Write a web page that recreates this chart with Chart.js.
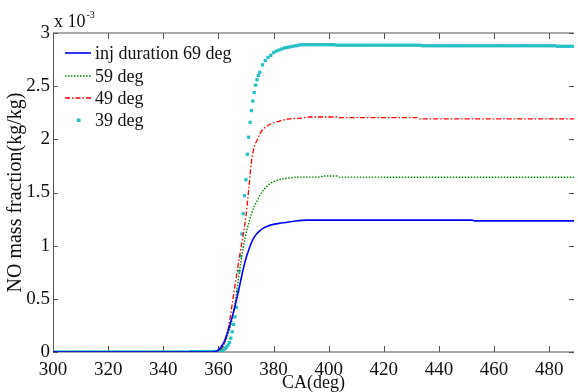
<!DOCTYPE html>
<html lang="en">
<head>
<meta charset="UTF-8">
<title>NO mass fraction</title>
<script src="https://cdn.jsdelivr.net/npm/chart.js"></script>
<style>
  html, body { margin: 0; padding: 0; background: #fff; }
  canvas { display: block; }
</style>
</head>
<body>
<canvas id="noChart" width="578" height="392"></canvas>
<script>
// values are NO mass fraction in units of 1e-3 kg/kg
const seriesLabels = ['inj duration 69 deg', '59 deg', '49 deg', '39 deg'];
const xTickLabels = ['300', '320', '340', '360', '380', '400', '420', '440', '460', '480'];
const yTickLabels = ['0', '0.5', '1', '1.5', '2', '2.5', '3'];

// 69 deg (solid blue)
const ca69 = [300, 358, 359, 360, 361, 362, 363, 364, 365, 366, 367, 368, 369, 370, 371, 372, 373, 374, 375, 376, 378, 380, 382, 385, 388, 392, 452, 453, 490];
const no69 = [0, 0, 0.005, 0.02, 0.05, 0.09, 0.16, 0.24, 0.33, 0.43, 0.54, 0.66, 0.78, 0.88, 0.96, 1.03, 1.08, 1.115, 1.14, 1.16, 1.185, 1.20, 1.21, 1.22, 1.232, 1.24, 1.24, 1.233, 1.233];

// 59 deg (dotted green)
const ca59 = [300, 358, 359, 360, 361, 362, 363, 364, 365, 366, 367, 368, 369, 370, 371, 372, 373, 374, 375, 376, 378, 380, 382, 385, 390, 397, 398, 403, 404, 490];
const no59 = [0, 0, 0.004, 0.012, 0.03, 0.07, 0.13, 0.21, 0.31, 0.45, 0.64, 0.82, 0.98, 1.11, 1.21, 1.30, 1.37, 1.42, 1.47, 1.51, 1.57, 1.60, 1.62, 1.635, 1.645, 1.645, 1.655, 1.655, 1.645, 1.643];

// 49 deg (dash-dot red)
const ca49 = [300, 358, 359, 360, 361, 362, 363, 364, 365, 366, 367, 368, 369, 370, 371, 372, 373, 374, 375, 376, 378, 380, 382, 385, 390, 393, 403, 404, 432, 433, 490];
const no49 = [0, 0, 0.004, 0.012, 0.03, 0.07, 0.15, 0.28, 0.45, 0.62, 0.79, 0.95, 1.10, 1.28, 1.53, 1.79, 1.93, 1.99, 2.05, 2.09, 2.13, 2.155, 2.17, 2.19, 2.20, 2.21, 2.21, 2.204, 2.204, 2.193, 2.193];

// 39 deg (cyan square markers)
const ca39 = [
  300, 301, 302, 303, 304, 305, 306, 307, 308, 309,
  310, 311, 312, 313, 314, 315, 316, 317, 318, 319,
  320, 321, 322, 323, 324, 325, 326, 327, 328, 329,
  330, 331, 332, 333, 334, 335, 336, 337, 338, 339,
  340, 341, 342, 343, 344, 345, 346, 347, 348, 349,
  350, 351, 352, 353, 354, 355, 356, 357, 358, 359,
  360, 360.5, 361, 361.5, 362, 362.5, 363, 363.5, 364, 364.5,
  365, 365.5, 366, 366.5, 367, 367.5, 368, 368.5, 369, 369.5,
  370, 370.5, 371, 371.5, 372, 372.5, 373, 373.5, 374, 374.5, 375,
  376, 377, 378, 379, 380, 381, 382, 383, 384, 385,
  386, 387, 388, 389, 390, 391, 392, 393, 394, 395,
  396, 397, 398, 399, 400, 401, 402, 403, 404, 405,
  406, 407, 408, 409, 410, 411, 412, 413, 414, 415,
  416, 417, 418, 419, 420, 421, 422, 423, 424, 425,
  426, 427, 428, 429, 430, 431, 432, 433, 434, 435,
  436, 437, 438, 439, 440, 441, 442, 443, 444, 445,
  446, 447, 448, 449, 450, 451, 452, 453, 454, 455,
  456, 457, 458, 459, 460, 461, 462, 463, 464, 465,
  466, 467, 468, 469, 470, 471, 472, 473, 474, 475,
  476, 477, 478, 479, 480, 481, 482, 483, 484, 485,
  486, 487, 488, 489, 490
];
const no39 = [
  0, 0, 0, 0, 0, 0, 0, 0, 0, 0,
  0, 0, 0, 0, 0, 0, 0, 0, 0, 0,
  0, 0, 0, 0, 0, 0, 0, 0, 0, 0,
  0, 0, 0, 0, 0, 0, 0, 0, 0, 0,
  0, 0, 0, 0, 0, 0, 0, 0, 0, 0,
  0.004, 0.004, 0.004, 0.004, 0.004, 0.004, 0.004, 0.004, 0.004, 0.004,
  0.005, 0.006, 0.008, 0.015, 0.025, 0.035, 0.048, 0.065, 0.09, 0.13,
  0.19, 0.26, 0.33, 0.42, 0.57, 0.76, 0.90, 1.11, 1.30, 1.47,
  1.62, 1.86, 2.02, 2.16, 2.27, 2.36, 2.44, 2.51, 2.56, 2.60, 2.63,
  2.70, 2.74, 2.77, 2.79, 2.815, 2.83, 2.84, 2.85, 2.86, 2.865,
  2.87, 2.875, 2.88, 2.885, 2.89, 2.89, 2.89, 2.89, 2.89, 2.89,
  2.89, 2.89, 2.89, 2.89, 2.89, 2.89, 2.89, 2.885, 2.885, 2.885,
  2.885, 2.885, 2.885, 2.885, 2.885, 2.885, 2.885, 2.885, 2.885, 2.885,
  2.885, 2.885, 2.885, 2.885, 2.885, 2.885, 2.885, 2.885, 2.885, 2.885,
  2.885, 2.885, 2.885, 2.885, 2.885, 2.885, 2.885, 2.885, 2.88, 2.88,
  2.88, 2.88, 2.88, 2.88, 2.88, 2.88, 2.88, 2.88, 2.88, 2.88,
  2.88, 2.88, 2.88, 2.88, 2.88, 2.88, 2.88, 2.88, 2.88, 2.88,
  2.88, 2.88, 2.88, 2.88, 2.88, 2.88, 2.88, 2.88, 2.88, 2.88,
  2.88, 2.88, 2.88, 2.88, 2.88, 2.88, 2.88, 2.88, 2.88, 2.88,
  2.88, 2.88, 2.88, 2.88, 2.88, 2.88, 2.88, 2.875, 2.875, 2.875,
  2.875, 2.875, 2.875, 2.875, 2.875
];

const serif = '"Liberation Serif", "DejaVu Serif", serif';

function pts(xs, ys) {
  return xs.map((x, i) => ({ x: x, y: ys[i] }));
}

// axis box with inward ticks, drawn under the data
const axisBox = {
  id: 'axisBox',
  beforeDatasetsDraw(chart) {
    const { ctx, chartArea: a, scales: { x, y } } = chart;
    ctx.save();
    ctx.strokeStyle = '#a8a8a8';
    ctx.lineWidth = 2;
    ctx.beginPath();
    ctx.moveTo(a.left, a.top); ctx.lineTo(a.right, a.top);
    ctx.moveTo(a.left, a.bottom); ctx.lineTo(a.right, a.bottom);
    ctx.stroke();
    ctx.strokeStyle = '#555';
    ctx.lineWidth = 1;
    ctx.beginPath();
    ctx.moveTo(a.left + 0.5, a.top); ctx.lineTo(a.left + 0.5, a.bottom);
    ctx.stroke();
    ctx.beginPath();
    x.ticks.forEach(t => {
      const px = Math.round(x.getPixelForValue(t.value)) + 0.5;
      ctx.moveTo(px, a.bottom); ctx.lineTo(px, a.bottom - 6);
      ctx.moveTo(px, a.top); ctx.lineTo(px, a.top + 6);
    });
    y.ticks.forEach(t => {
      const py = Math.round(y.getPixelForValue(t.value)) + 0.5;
      ctx.moveTo(a.left, py); ctx.lineTo(a.left + 5, py);
      ctx.moveTo(a.right, py); ctx.lineTo(a.right - 5, py);
    });
    ctx.stroke();
    ctx.restore();
  },
  afterDraw(chart) {
    const { ctx, chartArea: a } = chart;
    ctx.save();
    ctx.fillStyle = '#111';
    ctx.textBaseline = 'alphabetic';
    ctx.font = '18px ' + serif;
    ctx.fillText('x 10', a.left + 1, 27);
    const w = ctx.measureText('x 10').width;
    ctx.font = '10px ' + serif;
    ctx.fillText('-3', a.left + 2 + w, 18);
    ctx.restore();
  }
};

// legend in the upper left of the plot
const innerLegend = {
  id: 'innerLegend',
  afterDatasetsDraw(chart) {
    const { ctx } = chart;
    const rowY = [53, 76, 98, 120];
    ctx.save();
    ctx.font = '18px ' + serif;
    ctx.textBaseline = 'middle';
    chart.data.datasets.forEach((ds, i) => {
      const yy = rowY[i];
      if (ds.showLine === false) {
        ctx.fillStyle = ds.backgroundColor;
        ctx.fillRect(77, yy - 1.5, 3.5, 3.5);
      } else {
        ctx.strokeStyle = ds.borderColor;
        ctx.lineWidth = ds.borderWidth;
        ctx.setLineDash(ds.borderDash || []);
        ctx.beginPath();
        ctx.moveTo(65, yy); ctx.lineTo(91, yy);
        ctx.stroke();
        ctx.setLineDash([]);
      }
      ctx.fillStyle = '#111';
      ctx.fillText(ds.label, 95, yy + 1);
    });
    ctx.restore();
  }
};

new Chart(document.getElementById('noChart'), {
  type: 'line',
  data: {
    datasets: [
      {
        label: seriesLabels[0], data: pts(ca69, no69),
        borderColor: '#0000ff', borderWidth: 1.6, pointRadius: 0,
        cubicInterpolationMode: 'monotone'
      },
      {
        label: seriesLabels[1], data: pts(ca59, no59),
        borderColor: '#008000', borderWidth: 1.4, borderDash: [1.5, 1.5], pointRadius: 0,
        cubicInterpolationMode: 'monotone'
      },
      {
        label: seriesLabels[2], data: pts(ca49, no49),
        borderColor: '#ff0000', borderWidth: 1.3, borderDash: [5, 2, 1.5, 2], pointRadius: 0,
        cubicInterpolationMode: 'monotone'
      },
      {
        label: seriesLabels[3], data: pts(ca39, no39),
        showLine: false, pointStyle: 'rect', pointRadius: 2.3, pointBorderWidth: 0,
        backgroundColor: '#25c0c4', borderColor: '#25c0c4'
      }
    ]
  },
  options: {
    responsive: false,
    animation: false,
    layout: { padding: { top: 33, left: 0, right: 0, bottom: 0 } },
    plugins: { legend: { display: false }, tooltip: { enabled: false } },
    scales: {
      x: {
        type: 'linear', min: 300, max: 489,
        grid: { display: false, drawTicks: false },
        border: { display: false },
        ticks: {
          stepSize: 20, padding: 7, maxRotation: 0, autoSkip: false, includeBounds: false,
          color: '#111', font: { family: serif, size: 19 },
          callback: (v) => xTickLabels[(v - 300) / 20]
        },
        title: { display: true, text: 'CA(deg)', color: '#111', font: { family: serif, size: 18 }, padding: { top: 0, bottom: -2 } },
        afterFit: (s) => { s.height = 40; }
      },
      y: {
        min: 0, max: 3,
        grid: { display: false, drawTicks: false },
        border: { display: false },
        ticks: {
          stepSize: 0.5, padding: 3,
          color: '#111', font: { family: serif, size: 19 },
          callback: (v) => yTickLabels[Math.round(v * 2)]
        },
        title: { display: true, text: 'NO mass fraction(kg/kg)', color: '#111', font: { family: serif, size: 20 }, padding: { top: 4, bottom: 0 } },
        afterFit: (s) => { s.width = 53; }
      }
    }
  },
  plugins: [axisBox, innerLegend]
});
</script>
</body>
</html>
